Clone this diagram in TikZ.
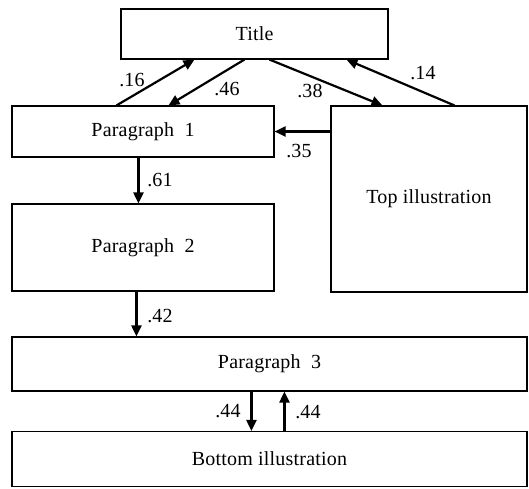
\documentclass[tikz,border=0pt]{standalone}
\usepackage{fontspec}
\setmainfont[LetterSpace=1]{Liberation Serif}
\usetikzlibrary{arrows.meta,calc}
\begin{document}
\begin{tikzpicture}[x=1pt,y=-1pt,
  box/.style={draw,line width=1.1pt,inner sep=0pt,anchor=center,font=\fontsize{20}{24}\selectfont},
  arr/.style={line width=2.2pt,-{Triangle[length=11pt,width=10pt]}},
  lbl/.style={font=\fontsize{20}{24}\selectfont,inner sep=0pt}]
\useasboundingbox (0,0) rectangle (529,488);
\node[box,minimum width=267pt,minimum height=50pt] (T) at (254.5,34) {Title};
\node[box,minimum width=262pt,minimum height=51pt] (P1) at (143,131.5) {Paragraph\ \ 1};
\node[box,minimum width=196pt,minimum height=186pt] (TI) at (429,199) {Top\ illustration};
\node[box,minimum width=262pt,minimum height=87pt] (P2) at (143,247.5) {Paragraph\ \ 2};
\node[box,minimum width=515pt,minimum height=54pt] (P3) at (269.5,364) {Paragraph\ \ 3};
\node[box,minimum width=515pt,minimum height=55pt] (BI) at (269.5,459) {Bottom\ illustration};
% arrows
\draw[arr] ([xshift=105pt]P1.north west) -- ([xshift=74pt]T.south west);
\draw[arr] ([xshift=124pt]T.south west) -- ([xshift=157pt]P1.north west);
\draw[arr] ([xshift=149pt]T.south west) -- ([xshift=52pt]TI.north west);
\draw[arr] ([xshift=124pt]TI.north west) -- ([xshift=226pt]T.south west);
\draw[arr] (TI.west |- P1.east) -- (P1.east);
\draw[arr] ([xshift=127pt]P1.south west) -- ([xshift=127pt]P2.north west);
\draw[arr] ([xshift=125pt]P2.south west) -- ([xshift=125pt]P3.north west);
\draw[arr] ([xshift=240pt]P3.south west) -- ([xshift=240pt]BI.north west);
\draw[arr] ([xshift=273pt]BI.north west) -- ([xshift=273pt]P3.south west);
% labels
\node[lbl] (l16) at (132,80) {.16};
\node[lbl] (l46) at (227,89) {.46};
\node[lbl] (l38) at (310,91) {.38};
\node[lbl] (l14) at (423,73) {.14};
\node[lbl] (l35) at (299,151) {.35};
\node[lbl] (l61) at (160,180) {.61};
\node[lbl] (l42) at (160,316) {.42};
\node[lbl] (l44a) at (228,411) {.44};
\node[lbl] (l44b) at (308,412) {.44};
\end{tikzpicture}
\end{document}
